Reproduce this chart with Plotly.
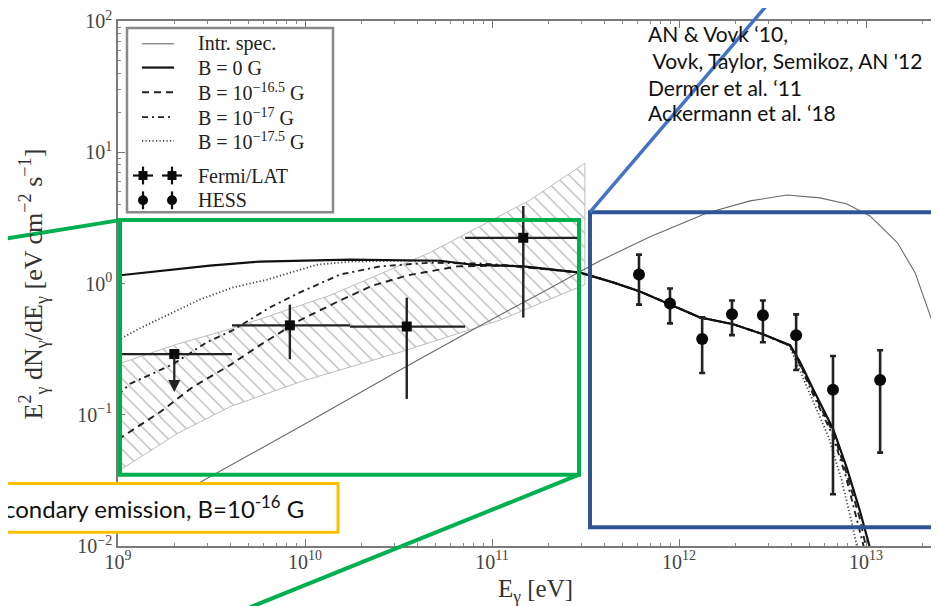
import numpy as np
import plotly.graph_objects as go

# ---------------- data ----------------
intr_E = [1e9, 2.75e9, 9.4e9, 3.22e10, 7.62e10, 1.81e11, 3.78e11, 7.0e11, 1.41e12, 2.40e12,
          3.78e12, 5.68e12, 7.91e12, 1.05e13, 1.47e13, 1.83e13, 2.02e13, 2.25e13, 2.45e13]
intr_F = [0.0137, 0.0305, 0.081, 0.219, 0.433, 0.84, 1.49, 2.27, 3.45, 4.26,
          4.72, 4.49, 4.04, 3.27, 2.05, 1.21, 0.81, 0.525, 0.339]

b0_E = [1e9, 1.68e9, 3.1e9, 5.74e9, 1.74e10, 5.27e10, 7.9e10, 1.47e11, 2.96e11, 4.44e11, 6.18e11,
        8.95e11, 1.29e12, 1.95e12, 2.81e12, 3.93e12, 4.44e12, 5.21e12, 6.67e12, 7.91e12, 9.29e12, 1.05e13]
b0_F = [1.15, 1.25, 1.37, 1.47, 1.52, 1.49, 1.39, 1.35, 1.21, 1.02, 0.87,
        0.693, 0.552, 0.489, 0.411, 0.339, 0.252, 0.157, 0.078, 0.039, 0.0184, 0.00966]

b165_E = [1e9, 1.68e9, 2.52e9, 3.97e9, 5.74e9, 9.4e9, 1.54e10, 2.31e10, 3.51e10, 6.5e10, 1.2e11,
          2.96e11, 4.44e11, 6.18e11, 8.95e11, 1.29e12, 1.95e12, 2.81e12, 3.93e12, 4.44e12, 5.21e12,
          6.67e12, 7.91e12, 9.29e12, 1.0e13]
b165_F = [0.0647, 0.105, 0.163, 0.239, 0.339, 0.525, 0.743, 0.966, 1.15, 1.35, 1.37,
          1.21, 1.02, 0.87, 0.693, 0.552, 0.489, 0.411, 0.335, 0.245, 0.150,
          0.073, 0.035, 0.016, 0.0098]

b17_E = [1e9, 1.16e9, 1.97e9, 2.99e9, 4.12e9, 6.5e9, 9.4e9, 1.54e10, 2.52e10, 4.66e10, 8.63e10,
         1.47e11, 2.96e11, 4.44e11, 6.18e11, 8.95e11, 1.29e12, 1.95e12, 2.81e12, 3.93e12, 4.4e12,
         5.15e12, 6.6e12, 7.8e12, 9.0e12, 9.8e12]
b17_F = [0.142, 0.172, 0.243, 0.357, 0.441, 0.658, 0.855, 1.17, 1.35, 1.44, 1.42,
         1.35, 1.21, 1.02, 0.87, 0.693, 0.552, 0.489, 0.411, 0.335, 0.245,
         0.148, 0.071, 0.034, 0.015, 0.0095]

b175_E = [1e9, 1.31e9, 1.83e9, 2.75e9, 4.12e9, 6.27e9, 1.16e10, 1.74e10, 3.22e10, 5.27e10, 7.9e10,
          1.47e11, 2.96e11, 4.44e11, 6.18e11, 8.95e11, 1.29e12, 1.95e12, 2.81e12, 3.9e12, 4.3e12,
          5.0e12, 6.3e12, 7.4e12, 8.4e12, 9.0e12]
b175_F = [0.370, 0.456, 0.573, 0.757, 0.933, 1.07, 1.39, 1.47, 1.49, 1.49, 1.39,
          1.35, 1.21, 1.02, 0.87, 0.693, 0.552, 0.489, 0.411, 0.335, 0.24,
          0.145, 0.068, 0.032, 0.015, 0.0095]

# Fermi/LAT butterfly
bt_up_E = [1e9, 2.07e9, 3.97e9, 1.36e10, 4.66e10, 1.6e11, 3.14e11]
bt_up_F = [0.243, 0.345, 0.449, 0.811, 1.72, 4.33, 8.26]
bt_lo_E = [1e9, 2.07e9, 3.97e9, 9.4e9, 3.22e10, 1.1e11, 3.14e11]
bt_lo_F = [0.037, 0.0718, 0.115, 0.178, 0.30, 0.525, 0.982]

# Fermi/LAT points
fermi_E = [2.0e9, 8.3e9, 3.5e10, 1.47e11]
fermi_E_lo = [1.03e9, 4.07e9, 1.74e10, 7.18e10]
fermi_E_hi = [4.07e9, 1.74e10, 7.18e10, 2.85e11]
fermi_F = [0.29, 0.48, 0.47, 2.23]
fermi_F_lo = [0.149, 0.265, 0.132, 0.55]
fermi_F_hi = [0.29, 0.69, 0.78, 3.9]
fermi_ul = [True, False, False, False]

# HESS points
hess_E = [6.11e11, 8.95e11, 1.33e12, 1.92e12, 2.81e12, 4.23e12, 6.66e12, 1.19e13]
hess_F = [1.17, 0.705, 0.377, 0.582, 0.573, 0.404, 0.155, 0.184]
hess_F_hi = [1.66, 0.916, 0.552, 0.743, 0.743, 0.582, 0.280, 0.310]
hess_F_lo = [0.69, 0.497, 0.208, 0.404, 0.357, 0.219, 0.0248, 0.0515]

x_ticks = [1e9, 1e10, 1e11, 1e12, 1e13]
y_ticks = [1e-2, 1e-1, 1e0, 1e1, 1e2]

legend_labels = ["Intr. spec.", "B = 0 G", "B = 10<sup>−16.5</sup> G", "B = 10<sup>−17</sup> G",
                 "B = 10<sup>−17.5</sup> G", "Fermi/LAT", "HESS"]
refs = ["AN & Vovk \u201810,", " Vovk, Taylor, Semikoz, AN '12", "Dermer et al. \u201811",
        "Ackermann et al. \u201818"]
box_text = "condary emission, B=10<sup>-16</sup> G"

# ---------------- layout geometry ----------------
# the page body has an 8px margin, so the figure is drawn 8px in from the
# top-left corner of the 939x606 window; size it so that it fills the window.
BODY = 8
W, H = 939 - BODY, 606 - BODY
PL, PT, PR, PB = 118, 16, 939, 546          # plot area in window pixels
ML, MT = PL - BODY, PT - BODY
MR, MB = 0, (606 - PB)
PW, PH = PR - PL, PB - PT
XR = [9.0, 9.0 + PW / 187.0]
YR = [-2.0, 2.0]

SERIF = "Liberation Serif, Times New Roman, serif"
SANS = "Lato, Carlito, Calibri, sans-serif"


def PX(x):
    return (x - PL) / PW


def PY(y):
    return (PB - y) / PH


fig = go.Figure()

# butterfly
bx = list(bt_up_E) + list(bt_lo_E[::-1])
by = list(bt_up_F) + list(bt_lo_F[::-1])
fig.add_trace(go.Scatter(x=bx, y=by, mode="lines", fill="toself",
                         fillcolor="rgba(255,255,255,0)",
                         fillpattern=dict(shape="\\", fgcolor="#7c7c7c", bgcolor="rgba(255,255,255,0)",
                                          size=10, solidity=0.14),
                         line=dict(color="#bdbdbd", width=1), hoverinfo="skip"))

DOT = dict(color="#444", width=1.8, dash="1.2px,2.3px")
DASHDOT = dict(color="#222", width=1.9, dash="6px,4px,2px,4px")
DASH = dict(color="#222", width=1.9, dash="7px,5px")
SOLID = dict(color="#111", width=2.2)
THIN = dict(color="#6a6a6a", width=1.1)

fig.add_trace(go.Scatter(x=intr_E, y=intr_F, mode="lines", line=THIN))
fig.add_trace(go.Scatter(x=b175_E, y=b175_F, mode="lines", line=DOT))
fig.add_trace(go.Scatter(x=b17_E, y=b17_F, mode="lines", line=DASHDOT))
fig.add_trace(go.Scatter(x=b165_E, y=b165_F, mode="lines", line=DASH))
fig.add_trace(go.Scatter(x=b0_E, y=b0_F, mode="lines", line=SOLID))

# Fermi points
fE = np.array(fermi_E); fF = np.array(fermi_F)
ul = np.array(fermi_ul)
fig.add_trace(go.Scatter(
    x=fE, y=fF, mode="markers",
    marker=dict(symbol="square", size=10, color="#0a0a0a"),
    error_x=dict(type="data", symmetric=False, array=np.array(fermi_E_hi) - fE,
                 arrayminus=fE - np.array(fermi_E_lo), color="#222", thickness=2.2, width=0),
    error_y=dict(type="data", symmetric=False,
                 array=np.where(ul, 0, np.array(fermi_F_hi) - fF),
                 arrayminus=np.where(ul, 0, fF - np.array(fermi_F_lo)),
                 color="#222", thickness=2.4, width=0)))
for e, f, lo, u in zip(fermi_E, fermi_F, fermi_F_lo, fermi_ul):
    if u:
        fig.add_annotation(x=np.log10(e), y=np.log10(lo), ax=np.log10(e), ay=np.log10(f),
                           xref="x", yref="y", axref="x", ayref="y", showarrow=True,
                           arrowhead=2, arrowsize=1.1, arrowwidth=2.2, arrowcolor="#222", text="")

# HESS points
hE = np.array(hess_E); hF = np.array(hess_F)
fig.add_trace(go.Scatter(
    x=hE, y=hF, mode="markers",
    marker=dict(symbol="circle", size=12, color="#0a0a0a"),
    error_y=dict(type="data", symmetric=False, array=np.array(hess_F_hi) - hF,
                 arrayminus=hF - np.array(hess_F_lo), color="#222", thickness=2.6, width=3)))

shapes = []
# legend box
shapes.append(dict(type="rect", xref="paper", yref="paper", x0=PX(127), x1=PX(333), y0=PY(209), y1=PY(23),
                   line=dict(color="#8a8a8a", width=2.5), fillcolor="white", layer="above"))
row_y = [39, 63, 88, 113, 137, 172, 197]
for yy, st in zip(row_y[:5], [THIN, SOLID, DASH, DASHDOT, DOT]):
    shapes.append(dict(type="line", xref="paper", yref="paper", x0=PX(142), x1=PX(174),
                       y0=PY(yy), y1=PY(yy), line=st, layer="above"))
for cx in (143, 172):
    yy = row_y[5]
    shapes.append(dict(type="line", xref="paper", yref="paper", x0=PX(cx - 10), x1=PX(cx + 10),
                       y0=PY(yy), y1=PY(yy), line=dict(color="#111", width=2.2), layer="above"))
    shapes.append(dict(type="line", xref="paper", yref="paper", x0=PX(cx), x1=PX(cx),
                       y0=PY(yy - 9), y1=PY(yy + 9), line=dict(color="#111", width=2.2), layer="above"))
    shapes.append(dict(type="rect", xref="paper", yref="paper", x0=PX(cx - 4.5), x1=PX(cx + 4.5),
                       y0=PY(yy + 4.5), y1=PY(yy - 4.5), line=dict(width=0), fillcolor="#0a0a0a",
                       layer="above"))
    yy = row_y[6]
    shapes.append(dict(type="line", xref="paper", yref="paper", x0=PX(cx), x1=PX(cx),
                       y0=PY(yy - 9), y1=PY(yy + 9), line=dict(color="#111", width=2.2), layer="above"))
    shapes.append(dict(type="circle", xref="paper", yref="paper", x0=PX(cx - 5), x1=PX(cx + 5),
                       y0=PY(yy + 5), y1=PY(yy - 5), line=dict(width=0), fillcolor="#0a0a0a",
                       layer="above"))

GREEN = "#00B050"
BLUE_D = "#2F5597"
BLUE_L = "#4472C4"
ORANGE = "#FFC000"
# green zoom box and connector lines
shapes.append(dict(type="rect", xref="paper", yref="paper", x0=PX(120), x1=PX(579), y0=PY(474), y1=PY(217),
                   line=dict(color=GREEN, width=4), layer="above"))
shapes.append(dict(type="line", xref="paper", yref="paper", x0=PX(120), y0=PY(217), x1=PX(-20), y1=PY(240),
                   line=dict(color=GREEN, width=4), layer="above"))
shapes.append(dict(type="line", xref="paper", yref="paper", x0=PX(579), y0=PY(474), x1=PX(240), y1=PY(612),
                   line=dict(color=GREEN, width=4), layer="above"))
# blue zoom box and connector line
shapes.append(dict(type="path", xref="paper", yref="paper",
                   path=f"M {PX(960)} {PY(209)} L {PX(590)} {PY(209)} L {PX(590)} {PY(527)} L {PX(960)} {PY(527)}",
                   line=dict(color=BLUE_D, width=4), layer="above"))
shapes.append(dict(type="line", xref="paper", yref="paper", x0=PX(590), y0=PY(209), x1=PX(772), y1=PY(-6),
                   line=dict(color=BLUE_L, width=3.5), layer="above"))
# orange label box
shapes.append(dict(type="rect", xref="paper", yref="paper", x0=PX(-20), x1=PX(338), y0=PY(532), y1=PY(483),
                   line=dict(color=ORANGE, width=3), fillcolor="white", layer="above"))
fig.update_layout(shapes=shapes)

ann = []
for yy, lab in zip(row_y, legend_labels):
    ann.append(dict(xref="paper", yref="paper", x=PX(196), y=PY(yy), text=lab, showarrow=False,
                    xanchor="left", yanchor="middle", font=dict(family=SERIF, size=20, color="#222")))
for yy, t in zip([29, 56, 83, 108], refs):
    ann.append(dict(xref="paper", yref="paper", x=PX(646), y=PY(yy), text=t, showarrow=False,
                    xanchor="left", yanchor="middle", font=dict(family=SANS, size=21, color="#111")))
ann.append(dict(xref="paper", yref="paper", x=PX(2), y=PY(507), text=box_text, showarrow=False,
                xanchor="left", yanchor="middle", font=dict(family=SANS, size=24, color="#111")))
# axis titles
ann.append(dict(xref="paper", yref="paper", x=PX(34), y=PY(282), textangle=-90,
                text="E<sup>2</sup><sub>γ</sub> dN<sub>γ</sub>/dE<sub>γ</sub> [eV cm<sup>−2</sup> s<sup>−1</sup>]",
                showarrow=False, xanchor="center", yanchor="middle",
                font=dict(family=SERIF, size=26, color="#333")))
ann.append(dict(xref="paper", yref="paper", x=PX(535), y=PY(591), text="E<sub>γ</sub> [eV]",
                showarrow=False, xanchor="center", yanchor="middle",
                font=dict(family=SERIF, size=25, color="#333")))
for a in ann:
    fig.add_annotation(**a)

axis_common = dict(showgrid=False, zeroline=False, showline=True, linecolor="#7a7a7a", linewidth=1.6,
                   ticks="inside", ticklen=7, tickcolor="#7a7a7a", tickwidth=1,
                   tickfont=dict(family=SERIF, size=20, color="#444"), exponentformat="power",
                   ticklabeloverflow="allow",
                   minor=dict(ticks="inside", ticklen=3.5, tickcolor="#8a8a8a", dtick="D1", showgrid=False))
fig.update_xaxes(type="log", range=XR, tickmode="array", tickvals=x_ticks,
                 ticktext=[f"10<sup>{int(np.log10(v))}</sup>" for v in x_ticks], mirror="ticks",
                 ticklabelstandoff=-3, **axis_common)
fig.update_yaxes(type="log", range=YR, tickmode="array", tickvals=y_ticks,
                 ticktext=[f"10<sup>{int(np.log10(v))}</sup>".replace("-", "−") for v in y_ticks],
                 mirror=False, **axis_common)

fig.update_layout(width=W, height=H, margin=dict(l=ML, r=MR, t=MT, b=MB, pad=0),
                  paper_bgcolor="white", plot_bgcolor="white", showlegend=False)

fig.write_html("out.html")
